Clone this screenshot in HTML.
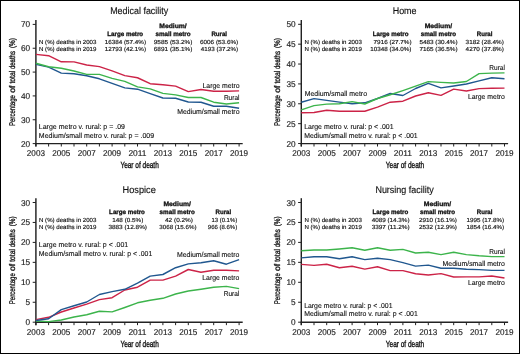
<!DOCTYPE html>
<html><head><meta charset="utf-8"><style>
html,body{margin:0;padding:0;background:#fff;}
body{width:520px;height:354px;overflow:hidden;}
svg{display:block;font-family:"Liberation Sans", sans-serif;text-rendering:geometricPrecision;will-change:transform;}
</style></head><body>
<svg width="520" height="354" viewBox="0 0 520 354">
<rect x="0" y="0" width="520" height="354" fill="#fff"/>
<text x="139.20" y="14.30" font-size="9.8" text-anchor="middle" textLength="58.00" lengthAdjust="spacingAndGlyphs" fill="#111" stroke="#111" stroke-width="0.15">Medical facility</text>
<line x1="35.90" y1="20.00" x2="35.90" y2="146.50" stroke="#222" stroke-width="1.45"/>
<line x1="35.20" y1="143.60" x2="242.70" y2="143.60" stroke="#222" stroke-width="1.45"/>
<line x1="32.70" y1="24.40" x2="35.90" y2="24.40" stroke="#222" stroke-width="1.0"/>
<text x="30.20" y="27.40" font-size="8.4" text-anchor="end" textLength="9.20" lengthAdjust="spacingAndGlyphs" fill="#222" stroke="#222" stroke-width="0.15">70</text>
<line x1="32.70" y1="48.24" x2="35.90" y2="48.24" stroke="#222" stroke-width="1.0"/>
<text x="30.20" y="51.24" font-size="8.4" text-anchor="end" textLength="9.20" lengthAdjust="spacingAndGlyphs" fill="#222" stroke="#222" stroke-width="0.15">60</text>
<line x1="32.70" y1="72.08" x2="35.90" y2="72.08" stroke="#222" stroke-width="1.0"/>
<text x="30.20" y="75.08" font-size="8.4" text-anchor="end" textLength="9.20" lengthAdjust="spacingAndGlyphs" fill="#222" stroke="#222" stroke-width="0.15">50</text>
<line x1="32.70" y1="95.92" x2="35.90" y2="95.92" stroke="#222" stroke-width="1.0"/>
<text x="30.20" y="98.92" font-size="8.4" text-anchor="end" textLength="9.20" lengthAdjust="spacingAndGlyphs" fill="#222" stroke="#222" stroke-width="0.15">40</text>
<line x1="32.70" y1="119.76" x2="35.90" y2="119.76" stroke="#222" stroke-width="1.0"/>
<text x="30.20" y="122.76" font-size="8.4" text-anchor="end" textLength="9.20" lengthAdjust="spacingAndGlyphs" fill="#222" stroke="#222" stroke-width="0.15">30</text>
<line x1="32.70" y1="143.60" x2="35.90" y2="143.60" stroke="#222" stroke-width="1.0"/>
<text x="30.20" y="146.60" font-size="8.4" text-anchor="end" textLength="9.20" lengthAdjust="spacingAndGlyphs" fill="#222" stroke="#222" stroke-width="0.15">20</text>
<line x1="35.90" y1="143.60" x2="35.90" y2="146.50" stroke="#222" stroke-width="1.0"/>
<text x="35.90" y="155.90" font-size="8.4" text-anchor="middle" textLength="18.10" lengthAdjust="spacingAndGlyphs" fill="#222" stroke="#222" stroke-width="0.15">2003</text>
<line x1="48.60" y1="143.60" x2="48.60" y2="146.50" stroke="#222" stroke-width="1.0"/>
<line x1="61.30" y1="143.60" x2="61.30" y2="146.50" stroke="#222" stroke-width="1.0"/>
<text x="61.30" y="155.90" font-size="8.4" text-anchor="middle" textLength="18.10" lengthAdjust="spacingAndGlyphs" fill="#222" stroke="#222" stroke-width="0.15">2005</text>
<line x1="74.00" y1="143.60" x2="74.00" y2="146.50" stroke="#222" stroke-width="1.0"/>
<line x1="86.70" y1="143.60" x2="86.70" y2="146.50" stroke="#222" stroke-width="1.0"/>
<text x="86.70" y="155.90" font-size="8.4" text-anchor="middle" textLength="18.10" lengthAdjust="spacingAndGlyphs" fill="#222" stroke="#222" stroke-width="0.15">2007</text>
<line x1="99.40" y1="143.60" x2="99.40" y2="146.50" stroke="#222" stroke-width="1.0"/>
<line x1="112.10" y1="143.60" x2="112.10" y2="146.50" stroke="#222" stroke-width="1.0"/>
<text x="112.10" y="155.90" font-size="8.4" text-anchor="middle" textLength="18.10" lengthAdjust="spacingAndGlyphs" fill="#222" stroke="#222" stroke-width="0.15">2009</text>
<line x1="124.80" y1="143.60" x2="124.80" y2="146.50" stroke="#222" stroke-width="1.0"/>
<line x1="137.50" y1="143.60" x2="137.50" y2="146.50" stroke="#222" stroke-width="1.0"/>
<text x="137.50" y="155.90" font-size="8.4" text-anchor="middle" textLength="18.10" lengthAdjust="spacingAndGlyphs" fill="#222" stroke="#222" stroke-width="0.15">2011</text>
<line x1="150.20" y1="143.60" x2="150.20" y2="146.50" stroke="#222" stroke-width="1.0"/>
<line x1="162.90" y1="143.60" x2="162.90" y2="146.50" stroke="#222" stroke-width="1.0"/>
<text x="162.90" y="155.90" font-size="8.4" text-anchor="middle" textLength="18.10" lengthAdjust="spacingAndGlyphs" fill="#222" stroke="#222" stroke-width="0.15">2013</text>
<line x1="175.60" y1="143.60" x2="175.60" y2="146.50" stroke="#222" stroke-width="1.0"/>
<line x1="188.30" y1="143.60" x2="188.30" y2="146.50" stroke="#222" stroke-width="1.0"/>
<text x="188.30" y="155.90" font-size="8.4" text-anchor="middle" textLength="18.10" lengthAdjust="spacingAndGlyphs" fill="#222" stroke="#222" stroke-width="0.15">2015</text>
<line x1="201.00" y1="143.60" x2="201.00" y2="146.50" stroke="#222" stroke-width="1.0"/>
<line x1="213.70" y1="143.60" x2="213.70" y2="146.50" stroke="#222" stroke-width="1.0"/>
<text x="213.70" y="155.90" font-size="8.4" text-anchor="middle" textLength="18.10" lengthAdjust="spacingAndGlyphs" fill="#222" stroke="#222" stroke-width="0.15">2017</text>
<line x1="226.40" y1="143.60" x2="226.40" y2="146.50" stroke="#222" stroke-width="1.0"/>
<line x1="239.10" y1="143.60" x2="239.10" y2="146.50" stroke="#222" stroke-width="1.0"/>
<text x="239.10" y="155.90" font-size="8.4" text-anchor="middle" textLength="18.10" lengthAdjust="spacingAndGlyphs" fill="#222" stroke="#222" stroke-width="0.15">2019</text>
<text x="139.60" y="168.00" font-size="9.0" text-anchor="middle" textLength="38.40" lengthAdjust="spacingAndGlyphs" fill="#111" stroke="#111" stroke-width="0.35">Year of death</text>
<text x="-110.55" y="0" font-size="8.3" text-anchor="middle" textLength="31.0" lengthAdjust="spacingAndGlyphs" fill="#111" stroke="#111" stroke-width="0.3" transform="translate(14.70,0) rotate(-90)">Percentage</text>
<text x="-89.20" y="0" font-size="8.3" text-anchor="middle" textLength="7.2" lengthAdjust="spacingAndGlyphs" fill="#111" stroke="#111" stroke-width="0.3" transform="translate(14.70,0) rotate(-90)">of</text>
<text x="-77.20" y="0" font-size="8.3" text-anchor="middle" textLength="12.8" lengthAdjust="spacingAndGlyphs" fill="#111" stroke="#111" stroke-width="0.3" transform="translate(14.70,0) rotate(-90)">total</text>
<text x="-60.10" y="0" font-size="8.3" text-anchor="middle" textLength="18.0" lengthAdjust="spacingAndGlyphs" fill="#111" stroke="#111" stroke-width="0.3" transform="translate(14.70,0) rotate(-90)">deaths</text>
<text x="-43.15" y="0" font-size="8.3" text-anchor="middle" textLength="9.9" lengthAdjust="spacingAndGlyphs" fill="#111" stroke="#111" stroke-width="0.3" transform="translate(14.70,0) rotate(-90)">(%)</text>
<polyline points="35.90,64.40 48.60,67.10 61.30,73.10 74.00,73.70 86.70,75.80 99.40,78.80 112.10,83.40 124.80,87.90 137.50,89.20 150.20,93.70 162.90,98.00 175.60,98.20 188.30,102.00 201.00,102.30 213.70,106.30 226.40,106.30 239.10,108.20" fill="none" stroke="#20578f" stroke-width="1.42" stroke-linejoin="round" stroke-linecap="butt"/>
<polyline points="35.90,63.20 48.60,66.70 61.30,68.30 74.00,71.00 86.70,74.40 99.40,74.40 112.10,78.40 124.80,81.40 137.50,86.90 150.20,88.90 162.90,93.40 175.60,94.90 188.30,97.50 201.00,97.50 213.70,102.20 226.40,104.00 239.10,102.80" fill="none" stroke="#3cb44b" stroke-width="1.42" stroke-linejoin="round" stroke-linecap="butt"/>
<polyline points="35.90,54.40 48.60,55.70 61.30,61.80 74.00,61.90 86.70,65.00 99.40,66.60 112.10,70.80 124.80,75.65 137.50,77.75 150.20,83.70 162.90,84.75 175.60,86.10 188.30,91.60 201.00,89.50 213.70,91.30 226.40,91.30 239.10,90.90" fill="none" stroke="#cc2347" stroke-width="1.42" stroke-linejoin="round" stroke-linecap="butt"/>
<text x="125.20" y="35.50" font-size="6.4" text-anchor="middle" font-weight="bold" textLength="35.80" lengthAdjust="spacingAndGlyphs" fill="#111" stroke="#111" stroke-width="0.3">Large metro</text>
<text x="173.00" y="28.00" font-size="6.4" text-anchor="middle" font-weight="bold" textLength="27.50" lengthAdjust="spacingAndGlyphs" fill="#111" stroke="#111" stroke-width="0.3">Medium/</text>
<text x="173.00" y="35.60" font-size="6.4" text-anchor="middle" font-weight="bold" textLength="35.20" lengthAdjust="spacingAndGlyphs" fill="#111" stroke="#111" stroke-width="0.3">small metro</text>
<text x="219.20" y="35.60" font-size="6.4" text-anchor="middle" font-weight="bold" textLength="15.60" lengthAdjust="spacingAndGlyphs" fill="#111" stroke="#111" stroke-width="0.3">Rural</text>
<text x="39.00" y="43.80" font-size="5.9" textLength="57.40" lengthAdjust="spacingAndGlyphs" fill="#111" stroke="#111" stroke-width="0.15">N (%) deaths in 2003</text>
<text x="39.00" y="51.10" font-size="5.9" textLength="57.40" lengthAdjust="spacingAndGlyphs" fill="#111" stroke="#111" stroke-width="0.15">N (%) deaths in 2019</text>
<text x="104.80" y="43.80" font-size="5.9" textLength="41.20" lengthAdjust="spacingAndGlyphs" fill="#111" stroke="#111" stroke-width="0.15">16384 (57.4%)</text>
<text x="104.80" y="51.20" font-size="5.9" textLength="41.20" lengthAdjust="spacingAndGlyphs" fill="#111" stroke="#111" stroke-width="0.15">12793 (42.1%)</text>
<text x="153.80" y="43.80" font-size="5.9" textLength="38.60" lengthAdjust="spacingAndGlyphs" fill="#111" stroke="#111" stroke-width="0.15">9585 (53.2%)</text>
<text x="153.80" y="51.20" font-size="5.9" textLength="38.60" lengthAdjust="spacingAndGlyphs" fill="#111" stroke="#111" stroke-width="0.15">6891 (35.1%)</text>
<text x="200.00" y="43.80" font-size="5.9" textLength="38.20" lengthAdjust="spacingAndGlyphs" fill="#111" stroke="#111" stroke-width="0.15">6006 (53.6%)</text>
<text x="200.80" y="51.20" font-size="5.9" textLength="37.40" lengthAdjust="spacingAndGlyphs" fill="#111" stroke="#111" stroke-width="0.15">4193 (37.2%)</text>
<text x="38.80" y="129.10" font-size="7.1" textLength="86.20" lengthAdjust="spacingAndGlyphs" fill="#111" stroke="#111" stroke-width="0.12">Large metro v. rural: p = .09</text>
<text x="38.80" y="137.60" font-size="7.1" textLength="115.30" lengthAdjust="spacingAndGlyphs" fill="#111" stroke="#111" stroke-width="0.12">Medium/small metro v. rural: p = .009</text>
<text x="239.50" y="87.90" font-size="7.1" text-anchor="end" textLength="37.00" lengthAdjust="spacingAndGlyphs" fill="#111" stroke="#111" stroke-width="0.12">Large metro</text>
<text x="239.50" y="100.30" font-size="7.1" text-anchor="end" textLength="15.60" lengthAdjust="spacingAndGlyphs" fill="#111" stroke="#111" stroke-width="0.12">Rural</text>
<text x="239.50" y="114.00" font-size="7.1" text-anchor="end" textLength="62.30" lengthAdjust="spacingAndGlyphs" fill="#111" stroke="#111" stroke-width="0.12">Medium/small metro</text>
<text x="404.60" y="14.30" font-size="9.8" text-anchor="middle" textLength="23.80" lengthAdjust="spacingAndGlyphs" fill="#111" stroke="#111" stroke-width="0.15">Home</text>
<line x1="301.30" y1="20.00" x2="301.30" y2="146.50" stroke="#222" stroke-width="1.45"/>
<line x1="300.60" y1="143.60" x2="508.10" y2="143.60" stroke="#222" stroke-width="1.45"/>
<line x1="298.10" y1="24.30" x2="301.30" y2="24.30" stroke="#222" stroke-width="1.0"/>
<text x="295.60" y="27.30" font-size="8.4" text-anchor="end" textLength="9.20" lengthAdjust="spacingAndGlyphs" fill="#222" stroke="#222" stroke-width="0.15">50</text>
<line x1="298.10" y1="44.17" x2="301.30" y2="44.17" stroke="#222" stroke-width="1.0"/>
<text x="295.60" y="47.17" font-size="8.4" text-anchor="end" textLength="9.20" lengthAdjust="spacingAndGlyphs" fill="#222" stroke="#222" stroke-width="0.15">45</text>
<line x1="298.10" y1="64.04" x2="301.30" y2="64.04" stroke="#222" stroke-width="1.0"/>
<text x="295.60" y="67.04" font-size="8.4" text-anchor="end" textLength="9.20" lengthAdjust="spacingAndGlyphs" fill="#222" stroke="#222" stroke-width="0.15">40</text>
<line x1="298.10" y1="83.91" x2="301.30" y2="83.91" stroke="#222" stroke-width="1.0"/>
<text x="295.60" y="86.91" font-size="8.4" text-anchor="end" textLength="9.20" lengthAdjust="spacingAndGlyphs" fill="#222" stroke="#222" stroke-width="0.15">35</text>
<line x1="298.10" y1="103.78" x2="301.30" y2="103.78" stroke="#222" stroke-width="1.0"/>
<text x="295.60" y="106.78" font-size="8.4" text-anchor="end" textLength="9.20" lengthAdjust="spacingAndGlyphs" fill="#222" stroke="#222" stroke-width="0.15">30</text>
<line x1="298.10" y1="123.65" x2="301.30" y2="123.65" stroke="#222" stroke-width="1.0"/>
<text x="295.60" y="126.65" font-size="8.4" text-anchor="end" textLength="9.20" lengthAdjust="spacingAndGlyphs" fill="#222" stroke="#222" stroke-width="0.15">25</text>
<line x1="298.10" y1="143.52" x2="301.30" y2="143.52" stroke="#222" stroke-width="1.0"/>
<text x="295.60" y="146.52" font-size="8.4" text-anchor="end" textLength="9.20" lengthAdjust="spacingAndGlyphs" fill="#222" stroke="#222" stroke-width="0.15">20</text>
<line x1="301.30" y1="143.60" x2="301.30" y2="146.50" stroke="#222" stroke-width="1.0"/>
<text x="301.30" y="155.90" font-size="8.4" text-anchor="middle" textLength="18.10" lengthAdjust="spacingAndGlyphs" fill="#222" stroke="#222" stroke-width="0.15">2003</text>
<line x1="314.00" y1="143.60" x2="314.00" y2="146.50" stroke="#222" stroke-width="1.0"/>
<line x1="326.70" y1="143.60" x2="326.70" y2="146.50" stroke="#222" stroke-width="1.0"/>
<text x="326.70" y="155.90" font-size="8.4" text-anchor="middle" textLength="18.10" lengthAdjust="spacingAndGlyphs" fill="#222" stroke="#222" stroke-width="0.15">2005</text>
<line x1="339.40" y1="143.60" x2="339.40" y2="146.50" stroke="#222" stroke-width="1.0"/>
<line x1="352.10" y1="143.60" x2="352.10" y2="146.50" stroke="#222" stroke-width="1.0"/>
<text x="352.10" y="155.90" font-size="8.4" text-anchor="middle" textLength="18.10" lengthAdjust="spacingAndGlyphs" fill="#222" stroke="#222" stroke-width="0.15">2007</text>
<line x1="364.80" y1="143.60" x2="364.80" y2="146.50" stroke="#222" stroke-width="1.0"/>
<line x1="377.50" y1="143.60" x2="377.50" y2="146.50" stroke="#222" stroke-width="1.0"/>
<text x="377.50" y="155.90" font-size="8.4" text-anchor="middle" textLength="18.10" lengthAdjust="spacingAndGlyphs" fill="#222" stroke="#222" stroke-width="0.15">2009</text>
<line x1="390.20" y1="143.60" x2="390.20" y2="146.50" stroke="#222" stroke-width="1.0"/>
<line x1="402.90" y1="143.60" x2="402.90" y2="146.50" stroke="#222" stroke-width="1.0"/>
<text x="402.90" y="155.90" font-size="8.4" text-anchor="middle" textLength="18.10" lengthAdjust="spacingAndGlyphs" fill="#222" stroke="#222" stroke-width="0.15">2011</text>
<line x1="415.60" y1="143.60" x2="415.60" y2="146.50" stroke="#222" stroke-width="1.0"/>
<line x1="428.30" y1="143.60" x2="428.30" y2="146.50" stroke="#222" stroke-width="1.0"/>
<text x="428.30" y="155.90" font-size="8.4" text-anchor="middle" textLength="18.10" lengthAdjust="spacingAndGlyphs" fill="#222" stroke="#222" stroke-width="0.15">2013</text>
<line x1="441.00" y1="143.60" x2="441.00" y2="146.50" stroke="#222" stroke-width="1.0"/>
<line x1="453.70" y1="143.60" x2="453.70" y2="146.50" stroke="#222" stroke-width="1.0"/>
<text x="453.70" y="155.90" font-size="8.4" text-anchor="middle" textLength="18.10" lengthAdjust="spacingAndGlyphs" fill="#222" stroke="#222" stroke-width="0.15">2015</text>
<line x1="466.40" y1="143.60" x2="466.40" y2="146.50" stroke="#222" stroke-width="1.0"/>
<line x1="479.10" y1="143.60" x2="479.10" y2="146.50" stroke="#222" stroke-width="1.0"/>
<text x="479.10" y="155.90" font-size="8.4" text-anchor="middle" textLength="18.10" lengthAdjust="spacingAndGlyphs" fill="#222" stroke="#222" stroke-width="0.15">2017</text>
<line x1="491.80" y1="143.60" x2="491.80" y2="146.50" stroke="#222" stroke-width="1.0"/>
<line x1="504.50" y1="143.60" x2="504.50" y2="146.50" stroke="#222" stroke-width="1.0"/>
<text x="504.50" y="155.90" font-size="8.4" text-anchor="middle" textLength="18.10" lengthAdjust="spacingAndGlyphs" fill="#222" stroke="#222" stroke-width="0.15">2019</text>
<text x="405.00" y="168.00" font-size="9.0" text-anchor="middle" textLength="38.40" lengthAdjust="spacingAndGlyphs" fill="#111" stroke="#111" stroke-width="0.35">Year of death</text>
<text x="-110.55" y="0" font-size="8.3" text-anchor="middle" textLength="31.0" lengthAdjust="spacingAndGlyphs" fill="#111" stroke="#111" stroke-width="0.3" transform="translate(280.10,0) rotate(-90)">Percentage</text>
<text x="-89.20" y="0" font-size="8.3" text-anchor="middle" textLength="7.2" lengthAdjust="spacingAndGlyphs" fill="#111" stroke="#111" stroke-width="0.3" transform="translate(280.10,0) rotate(-90)">of</text>
<text x="-77.20" y="0" font-size="8.3" text-anchor="middle" textLength="12.8" lengthAdjust="spacingAndGlyphs" fill="#111" stroke="#111" stroke-width="0.3" transform="translate(280.10,0) rotate(-90)">total</text>
<text x="-60.10" y="0" font-size="8.3" text-anchor="middle" textLength="18.0" lengthAdjust="spacingAndGlyphs" fill="#111" stroke="#111" stroke-width="0.3" transform="translate(280.10,0) rotate(-90)">deaths</text>
<text x="-43.15" y="0" font-size="8.3" text-anchor="middle" textLength="9.9" lengthAdjust="spacingAndGlyphs" fill="#111" stroke="#111" stroke-width="0.3" transform="translate(280.10,0) rotate(-90)">(%)</text>
<polyline points="301.30,102.20 314.00,98.65 326.70,100.40 339.40,102.10 352.10,103.80 364.80,102.80 377.50,98.50 390.20,93.50 402.90,95.50 415.60,88.50 428.30,83.30 441.00,87.90 453.70,86.00 466.40,84.00 479.10,80.90 491.80,77.70 504.50,78.70" fill="none" stroke="#20578f" stroke-width="1.42" stroke-linejoin="round" stroke-linecap="butt"/>
<polyline points="301.30,109.90 314.00,105.60 326.70,104.10 339.40,103.80 352.10,101.60 364.80,104.00 377.50,98.50 390.20,94.70 402.90,90.60 415.60,86.20 428.30,81.60 441.00,82.40 453.70,83.00 466.40,81.50 479.10,73.60 491.80,73.10 504.50,72.90" fill="none" stroke="#3cb44b" stroke-width="1.42" stroke-linejoin="round" stroke-linecap="butt"/>
<polyline points="301.30,112.80 314.00,112.50 326.70,110.20 339.40,111.30 352.10,111.20 364.80,111.20 377.50,107.10 390.20,102.20 402.90,101.20 415.60,96.00 428.30,92.80 441.00,95.40 453.70,89.10 466.40,91.00 479.10,88.60 491.80,88.30 504.50,88.10" fill="none" stroke="#cc2347" stroke-width="1.42" stroke-linejoin="round" stroke-linecap="butt"/>
<text x="390.60" y="35.50" font-size="6.4" text-anchor="middle" font-weight="bold" textLength="35.80" lengthAdjust="spacingAndGlyphs" fill="#111" stroke="#111" stroke-width="0.3">Large metro</text>
<text x="438.40" y="28.00" font-size="6.4" text-anchor="middle" font-weight="bold" textLength="27.50" lengthAdjust="spacingAndGlyphs" fill="#111" stroke="#111" stroke-width="0.3">Medium/</text>
<text x="438.40" y="35.60" font-size="6.4" text-anchor="middle" font-weight="bold" textLength="35.20" lengthAdjust="spacingAndGlyphs" fill="#111" stroke="#111" stroke-width="0.3">small metro</text>
<text x="484.60" y="35.60" font-size="6.4" text-anchor="middle" font-weight="bold" textLength="15.60" lengthAdjust="spacingAndGlyphs" fill="#111" stroke="#111" stroke-width="0.3">Rural</text>
<text x="304.40" y="43.80" font-size="5.9" textLength="57.40" lengthAdjust="spacingAndGlyphs" fill="#111" stroke="#111" stroke-width="0.15">N (%) deaths in 2003</text>
<text x="304.40" y="51.10" font-size="5.9" textLength="57.40" lengthAdjust="spacingAndGlyphs" fill="#111" stroke="#111" stroke-width="0.15">N (%) deaths in 2019</text>
<text x="373.60" y="43.80" font-size="5.9" textLength="38.00" lengthAdjust="spacingAndGlyphs" fill="#111" stroke="#111" stroke-width="0.15">7916 (27.7%)</text>
<text x="370.20" y="51.20" font-size="5.9" textLength="41.20" lengthAdjust="spacingAndGlyphs" fill="#111" stroke="#111" stroke-width="0.15">10348 (34.0%)</text>
<text x="419.40" y="43.80" font-size="5.9" textLength="38.20" lengthAdjust="spacingAndGlyphs" fill="#111" stroke="#111" stroke-width="0.15">5483 (30.4%)</text>
<text x="419.40" y="51.20" font-size="5.9" textLength="38.20" lengthAdjust="spacingAndGlyphs" fill="#111" stroke="#111" stroke-width="0.15">7165 (36.5%)</text>
<text x="465.60" y="43.80" font-size="5.9" textLength="38.20" lengthAdjust="spacingAndGlyphs" fill="#111" stroke="#111" stroke-width="0.15">3182 (28.4%)</text>
<text x="465.60" y="51.20" font-size="5.9" textLength="38.20" lengthAdjust="spacingAndGlyphs" fill="#111" stroke="#111" stroke-width="0.15">4270 (37.8%)</text>
<text x="304.20" y="129.10" font-size="7.1" textLength="89.40" lengthAdjust="spacingAndGlyphs" fill="#111" stroke="#111" stroke-width="0.12">Large metro v. rural: p &lt; .001</text>
<text x="304.20" y="137.60" font-size="7.1" textLength="113.50" lengthAdjust="spacingAndGlyphs" fill="#111" stroke="#111" stroke-width="0.12">Medium/small metro v. rural: p &lt; .001</text>
<text x="504.90" y="69.80" font-size="7.1" text-anchor="end" textLength="15.60" lengthAdjust="spacingAndGlyphs" fill="#111" stroke="#111" stroke-width="0.12">Rural</text>
<text x="504.90" y="98.80" font-size="7.1" text-anchor="end" textLength="37.00" lengthAdjust="spacingAndGlyphs" fill="#111" stroke="#111" stroke-width="0.12">Large metro</text>
<text x="367.00" y="95.80" font-size="7.1" text-anchor="end" textLength="62.30" lengthAdjust="spacingAndGlyphs" fill="#111" stroke="#111" stroke-width="0.12">Medium/small metro</text>
<text x="139.20" y="192.50" font-size="9.8" text-anchor="middle" textLength="33.20" lengthAdjust="spacingAndGlyphs" fill="#111" stroke="#111" stroke-width="0.15">Hospice</text>
<line x1="35.90" y1="198.20" x2="35.90" y2="325.15" stroke="#222" stroke-width="1.45"/>
<line x1="35.20" y1="322.25" x2="242.70" y2="322.25" stroke="#222" stroke-width="1.45"/>
<line x1="32.70" y1="202.50" x2="35.90" y2="202.50" stroke="#222" stroke-width="1.0"/>
<text x="30.20" y="205.50" font-size="8.4" text-anchor="end" textLength="9.20" lengthAdjust="spacingAndGlyphs" fill="#222" stroke="#222" stroke-width="0.15">30</text>
<line x1="32.70" y1="222.45" x2="35.90" y2="222.45" stroke="#222" stroke-width="1.0"/>
<text x="30.20" y="225.45" font-size="8.4" text-anchor="end" textLength="9.20" lengthAdjust="spacingAndGlyphs" fill="#222" stroke="#222" stroke-width="0.15">25</text>
<line x1="32.70" y1="242.40" x2="35.90" y2="242.40" stroke="#222" stroke-width="1.0"/>
<text x="30.20" y="245.40" font-size="8.4" text-anchor="end" textLength="9.20" lengthAdjust="spacingAndGlyphs" fill="#222" stroke="#222" stroke-width="0.15">20</text>
<line x1="32.70" y1="262.35" x2="35.90" y2="262.35" stroke="#222" stroke-width="1.0"/>
<text x="30.20" y="265.35" font-size="8.4" text-anchor="end" textLength="9.20" lengthAdjust="spacingAndGlyphs" fill="#222" stroke="#222" stroke-width="0.15">15</text>
<line x1="32.70" y1="282.30" x2="35.90" y2="282.30" stroke="#222" stroke-width="1.0"/>
<text x="30.20" y="285.30" font-size="8.4" text-anchor="end" textLength="9.20" lengthAdjust="spacingAndGlyphs" fill="#222" stroke="#222" stroke-width="0.15">10</text>
<line x1="32.70" y1="302.25" x2="35.90" y2="302.25" stroke="#222" stroke-width="1.0"/>
<text x="30.20" y="305.25" font-size="8.4" text-anchor="end" textLength="4.60" lengthAdjust="spacingAndGlyphs" fill="#222" stroke="#222" stroke-width="0.15">5</text>
<line x1="32.70" y1="322.20" x2="35.90" y2="322.20" stroke="#222" stroke-width="1.0"/>
<text x="30.20" y="325.20" font-size="8.4" text-anchor="end" textLength="4.60" lengthAdjust="spacingAndGlyphs" fill="#222" stroke="#222" stroke-width="0.15">0</text>
<line x1="35.90" y1="322.25" x2="35.90" y2="325.15" stroke="#222" stroke-width="1.0"/>
<text x="35.90" y="335.00" font-size="8.4" text-anchor="middle" textLength="18.10" lengthAdjust="spacingAndGlyphs" fill="#222" stroke="#222" stroke-width="0.15">2003</text>
<line x1="48.60" y1="322.25" x2="48.60" y2="325.15" stroke="#222" stroke-width="1.0"/>
<line x1="61.30" y1="322.25" x2="61.30" y2="325.15" stroke="#222" stroke-width="1.0"/>
<text x="61.30" y="335.00" font-size="8.4" text-anchor="middle" textLength="18.10" lengthAdjust="spacingAndGlyphs" fill="#222" stroke="#222" stroke-width="0.15">2005</text>
<line x1="74.00" y1="322.25" x2="74.00" y2="325.15" stroke="#222" stroke-width="1.0"/>
<line x1="86.70" y1="322.25" x2="86.70" y2="325.15" stroke="#222" stroke-width="1.0"/>
<text x="86.70" y="335.00" font-size="8.4" text-anchor="middle" textLength="18.10" lengthAdjust="spacingAndGlyphs" fill="#222" stroke="#222" stroke-width="0.15">2007</text>
<line x1="99.40" y1="322.25" x2="99.40" y2="325.15" stroke="#222" stroke-width="1.0"/>
<line x1="112.10" y1="322.25" x2="112.10" y2="325.15" stroke="#222" stroke-width="1.0"/>
<text x="112.10" y="335.00" font-size="8.4" text-anchor="middle" textLength="18.10" lengthAdjust="spacingAndGlyphs" fill="#222" stroke="#222" stroke-width="0.15">2009</text>
<line x1="124.80" y1="322.25" x2="124.80" y2="325.15" stroke="#222" stroke-width="1.0"/>
<line x1="137.50" y1="322.25" x2="137.50" y2="325.15" stroke="#222" stroke-width="1.0"/>
<text x="137.50" y="335.00" font-size="8.4" text-anchor="middle" textLength="18.10" lengthAdjust="spacingAndGlyphs" fill="#222" stroke="#222" stroke-width="0.15">2011</text>
<line x1="150.20" y1="322.25" x2="150.20" y2="325.15" stroke="#222" stroke-width="1.0"/>
<line x1="162.90" y1="322.25" x2="162.90" y2="325.15" stroke="#222" stroke-width="1.0"/>
<text x="162.90" y="335.00" font-size="8.4" text-anchor="middle" textLength="18.10" lengthAdjust="spacingAndGlyphs" fill="#222" stroke="#222" stroke-width="0.15">2013</text>
<line x1="175.60" y1="322.25" x2="175.60" y2="325.15" stroke="#222" stroke-width="1.0"/>
<line x1="188.30" y1="322.25" x2="188.30" y2="325.15" stroke="#222" stroke-width="1.0"/>
<text x="188.30" y="335.00" font-size="8.4" text-anchor="middle" textLength="18.10" lengthAdjust="spacingAndGlyphs" fill="#222" stroke="#222" stroke-width="0.15">2015</text>
<line x1="201.00" y1="322.25" x2="201.00" y2="325.15" stroke="#222" stroke-width="1.0"/>
<line x1="213.70" y1="322.25" x2="213.70" y2="325.15" stroke="#222" stroke-width="1.0"/>
<text x="213.70" y="335.00" font-size="8.4" text-anchor="middle" textLength="18.10" lengthAdjust="spacingAndGlyphs" fill="#222" stroke="#222" stroke-width="0.15">2017</text>
<line x1="226.40" y1="322.25" x2="226.40" y2="325.15" stroke="#222" stroke-width="1.0"/>
<line x1="239.10" y1="322.25" x2="239.10" y2="325.15" stroke="#222" stroke-width="1.0"/>
<text x="239.10" y="335.00" font-size="8.4" text-anchor="middle" textLength="18.10" lengthAdjust="spacingAndGlyphs" fill="#222" stroke="#222" stroke-width="0.15">2019</text>
<text x="139.60" y="347.10" font-size="9.0" text-anchor="middle" textLength="38.40" lengthAdjust="spacingAndGlyphs" fill="#111" stroke="#111" stroke-width="0.35">Year of death</text>
<text x="-288.75" y="0" font-size="8.3" text-anchor="middle" textLength="31.0" lengthAdjust="spacingAndGlyphs" fill="#111" stroke="#111" stroke-width="0.3" transform="translate(14.70,0) rotate(-90)">Percentage</text>
<text x="-267.40" y="0" font-size="8.3" text-anchor="middle" textLength="7.2" lengthAdjust="spacingAndGlyphs" fill="#111" stroke="#111" stroke-width="0.3" transform="translate(14.70,0) rotate(-90)">of</text>
<text x="-255.40" y="0" font-size="8.3" text-anchor="middle" textLength="12.8" lengthAdjust="spacingAndGlyphs" fill="#111" stroke="#111" stroke-width="0.3" transform="translate(14.70,0) rotate(-90)">total</text>
<text x="-238.30" y="0" font-size="8.3" text-anchor="middle" textLength="18.0" lengthAdjust="spacingAndGlyphs" fill="#111" stroke="#111" stroke-width="0.3" transform="translate(14.70,0) rotate(-90)">deaths</text>
<text x="-221.35" y="0" font-size="8.3" text-anchor="middle" textLength="9.9" lengthAdjust="spacingAndGlyphs" fill="#111" stroke="#111" stroke-width="0.3" transform="translate(14.70,0) rotate(-90)">(%)</text>
<polyline points="35.90,321.00 48.60,321.60 61.30,320.00 74.00,317.00 86.70,314.80 99.40,311.30 112.10,311.90 124.80,307.50 137.50,302.80 150.20,300.30 162.90,298.30 175.60,294.00 188.30,291.00 201.00,289.20 213.70,287.20 226.40,286.40 239.10,288.60" fill="none" stroke="#3cb44b" stroke-width="1.42" stroke-linejoin="round" stroke-linecap="butt"/>
<polyline points="35.90,319.60 48.60,317.30 61.30,312.00 74.00,308.00 86.70,304.10 99.40,299.60 112.10,297.70 124.80,290.00 137.50,287.20 150.20,280.10 162.90,280.10 175.60,276.10 188.30,269.50 201.00,272.20 213.70,270.30 226.40,270.30 239.10,270.90" fill="none" stroke="#cc2347" stroke-width="1.42" stroke-linejoin="round" stroke-linecap="butt"/>
<polyline points="35.90,320.50 48.60,318.80 61.30,309.60 74.00,305.80 86.70,302.00 99.40,294.50 112.10,291.60 124.80,289.30 137.50,283.20 150.20,276.10 162.90,274.50 175.60,267.70 188.30,263.90 201.00,262.70 213.70,260.80 226.40,264.20 239.10,259.70" fill="none" stroke="#20578f" stroke-width="1.42" stroke-linejoin="round" stroke-linecap="butt"/>
<text x="127.00" y="213.70" font-size="6.4" text-anchor="middle" font-weight="bold" textLength="35.80" lengthAdjust="spacingAndGlyphs" fill="#111" stroke="#111" stroke-width="0.3">Large metro</text>
<text x="177.20" y="206.20" font-size="6.4" text-anchor="middle" font-weight="bold" textLength="27.50" lengthAdjust="spacingAndGlyphs" fill="#111" stroke="#111" stroke-width="0.3">Medium/</text>
<text x="177.20" y="213.80" font-size="6.4" text-anchor="middle" font-weight="bold" textLength="35.20" lengthAdjust="spacingAndGlyphs" fill="#111" stroke="#111" stroke-width="0.3">small metro</text>
<text x="223.30" y="213.80" font-size="6.4" text-anchor="middle" font-weight="bold" textLength="15.60" lengthAdjust="spacingAndGlyphs" fill="#111" stroke="#111" stroke-width="0.3">Rural</text>
<text x="39.00" y="222.00" font-size="5.9" textLength="57.40" lengthAdjust="spacingAndGlyphs" fill="#111" stroke="#111" stroke-width="0.15">N (%) deaths in 2003</text>
<text x="39.00" y="229.30" font-size="5.9" textLength="57.40" lengthAdjust="spacingAndGlyphs" fill="#111" stroke="#111" stroke-width="0.15">N (%) deaths in 2019</text>
<text x="112.30" y="222.00" font-size="5.9" textLength="31.00" lengthAdjust="spacingAndGlyphs" fill="#111" stroke="#111" stroke-width="0.15">148 (0.5%)</text>
<text x="108.40" y="229.40" font-size="5.9" textLength="38.60" lengthAdjust="spacingAndGlyphs" fill="#111" stroke="#111" stroke-width="0.15">3883 (12.8%)</text>
<text x="165.00" y="222.00" font-size="5.9" textLength="28.00" lengthAdjust="spacingAndGlyphs" fill="#111" stroke="#111" stroke-width="0.15">42 (0.2%)</text>
<text x="159.30" y="229.40" font-size="5.9" textLength="37.20" lengthAdjust="spacingAndGlyphs" fill="#111" stroke="#111" stroke-width="0.15">3068 (15.6%)</text>
<text x="211.40" y="222.00" font-size="5.9" textLength="25.80" lengthAdjust="spacingAndGlyphs" fill="#111" stroke="#111" stroke-width="0.15">13 (0.1%)</text>
<text x="207.80" y="229.40" font-size="5.9" textLength="29.40" lengthAdjust="spacingAndGlyphs" fill="#111" stroke="#111" stroke-width="0.15">966 (8.6%)</text>
<text x="38.80" y="247.20" font-size="7.1" textLength="89.40" lengthAdjust="spacingAndGlyphs" fill="#111" stroke="#111" stroke-width="0.12">Large metro v. rural: p &lt; .001</text>
<text x="38.80" y="255.60" font-size="7.1" textLength="113.50" lengthAdjust="spacingAndGlyphs" fill="#111" stroke="#111" stroke-width="0.12">Medium/small metro v. rural: p &lt; .001</text>
<text x="239.30" y="257.10" font-size="7.1" text-anchor="end" textLength="62.30" lengthAdjust="spacingAndGlyphs" fill="#111" stroke="#111" stroke-width="0.12">Medium/small metro</text>
<text x="239.30" y="280.10" font-size="7.1" text-anchor="end" textLength="37.00" lengthAdjust="spacingAndGlyphs" fill="#111" stroke="#111" stroke-width="0.12">Large metro</text>
<text x="239.30" y="296.20" font-size="7.1" text-anchor="end" textLength="15.60" lengthAdjust="spacingAndGlyphs" fill="#111" stroke="#111" stroke-width="0.12">Rural</text>
<text x="404.60" y="192.50" font-size="9.8" text-anchor="middle" textLength="58.40" lengthAdjust="spacingAndGlyphs" fill="#111" stroke="#111" stroke-width="0.15">Nursing facility</text>
<line x1="301.30" y1="198.20" x2="301.30" y2="325.15" stroke="#222" stroke-width="1.45"/>
<line x1="300.60" y1="322.25" x2="508.10" y2="322.25" stroke="#222" stroke-width="1.45"/>
<line x1="298.10" y1="202.50" x2="301.30" y2="202.50" stroke="#222" stroke-width="1.0"/>
<text x="295.60" y="205.50" font-size="8.4" text-anchor="end" textLength="9.20" lengthAdjust="spacingAndGlyphs" fill="#222" stroke="#222" stroke-width="0.15">30</text>
<line x1="298.10" y1="222.45" x2="301.30" y2="222.45" stroke="#222" stroke-width="1.0"/>
<text x="295.60" y="225.45" font-size="8.4" text-anchor="end" textLength="9.20" lengthAdjust="spacingAndGlyphs" fill="#222" stroke="#222" stroke-width="0.15">25</text>
<line x1="298.10" y1="242.40" x2="301.30" y2="242.40" stroke="#222" stroke-width="1.0"/>
<text x="295.60" y="245.40" font-size="8.4" text-anchor="end" textLength="9.20" lengthAdjust="spacingAndGlyphs" fill="#222" stroke="#222" stroke-width="0.15">20</text>
<line x1="298.10" y1="262.35" x2="301.30" y2="262.35" stroke="#222" stroke-width="1.0"/>
<text x="295.60" y="265.35" font-size="8.4" text-anchor="end" textLength="9.20" lengthAdjust="spacingAndGlyphs" fill="#222" stroke="#222" stroke-width="0.15">15</text>
<line x1="298.10" y1="282.30" x2="301.30" y2="282.30" stroke="#222" stroke-width="1.0"/>
<text x="295.60" y="285.30" font-size="8.4" text-anchor="end" textLength="9.20" lengthAdjust="spacingAndGlyphs" fill="#222" stroke="#222" stroke-width="0.15">10</text>
<line x1="298.10" y1="302.25" x2="301.30" y2="302.25" stroke="#222" stroke-width="1.0"/>
<text x="295.60" y="305.25" font-size="8.4" text-anchor="end" textLength="4.60" lengthAdjust="spacingAndGlyphs" fill="#222" stroke="#222" stroke-width="0.15">5</text>
<line x1="298.10" y1="322.20" x2="301.30" y2="322.20" stroke="#222" stroke-width="1.0"/>
<text x="295.60" y="325.20" font-size="8.4" text-anchor="end" textLength="4.60" lengthAdjust="spacingAndGlyphs" fill="#222" stroke="#222" stroke-width="0.15">0</text>
<line x1="301.30" y1="322.25" x2="301.30" y2="325.15" stroke="#222" stroke-width="1.0"/>
<text x="301.30" y="335.00" font-size="8.4" text-anchor="middle" textLength="18.10" lengthAdjust="spacingAndGlyphs" fill="#222" stroke="#222" stroke-width="0.15">2003</text>
<line x1="314.00" y1="322.25" x2="314.00" y2="325.15" stroke="#222" stroke-width="1.0"/>
<line x1="326.70" y1="322.25" x2="326.70" y2="325.15" stroke="#222" stroke-width="1.0"/>
<text x="326.70" y="335.00" font-size="8.4" text-anchor="middle" textLength="18.10" lengthAdjust="spacingAndGlyphs" fill="#222" stroke="#222" stroke-width="0.15">2005</text>
<line x1="339.40" y1="322.25" x2="339.40" y2="325.15" stroke="#222" stroke-width="1.0"/>
<line x1="352.10" y1="322.25" x2="352.10" y2="325.15" stroke="#222" stroke-width="1.0"/>
<text x="352.10" y="335.00" font-size="8.4" text-anchor="middle" textLength="18.10" lengthAdjust="spacingAndGlyphs" fill="#222" stroke="#222" stroke-width="0.15">2007</text>
<line x1="364.80" y1="322.25" x2="364.80" y2="325.15" stroke="#222" stroke-width="1.0"/>
<line x1="377.50" y1="322.25" x2="377.50" y2="325.15" stroke="#222" stroke-width="1.0"/>
<text x="377.50" y="335.00" font-size="8.4" text-anchor="middle" textLength="18.10" lengthAdjust="spacingAndGlyphs" fill="#222" stroke="#222" stroke-width="0.15">2009</text>
<line x1="390.20" y1="322.25" x2="390.20" y2="325.15" stroke="#222" stroke-width="1.0"/>
<line x1="402.90" y1="322.25" x2="402.90" y2="325.15" stroke="#222" stroke-width="1.0"/>
<text x="402.90" y="335.00" font-size="8.4" text-anchor="middle" textLength="18.10" lengthAdjust="spacingAndGlyphs" fill="#222" stroke="#222" stroke-width="0.15">2011</text>
<line x1="415.60" y1="322.25" x2="415.60" y2="325.15" stroke="#222" stroke-width="1.0"/>
<line x1="428.30" y1="322.25" x2="428.30" y2="325.15" stroke="#222" stroke-width="1.0"/>
<text x="428.30" y="335.00" font-size="8.4" text-anchor="middle" textLength="18.10" lengthAdjust="spacingAndGlyphs" fill="#222" stroke="#222" stroke-width="0.15">2013</text>
<line x1="441.00" y1="322.25" x2="441.00" y2="325.15" stroke="#222" stroke-width="1.0"/>
<line x1="453.70" y1="322.25" x2="453.70" y2="325.15" stroke="#222" stroke-width="1.0"/>
<text x="453.70" y="335.00" font-size="8.4" text-anchor="middle" textLength="18.10" lengthAdjust="spacingAndGlyphs" fill="#222" stroke="#222" stroke-width="0.15">2015</text>
<line x1="466.40" y1="322.25" x2="466.40" y2="325.15" stroke="#222" stroke-width="1.0"/>
<line x1="479.10" y1="322.25" x2="479.10" y2="325.15" stroke="#222" stroke-width="1.0"/>
<text x="479.10" y="335.00" font-size="8.4" text-anchor="middle" textLength="18.10" lengthAdjust="spacingAndGlyphs" fill="#222" stroke="#222" stroke-width="0.15">2017</text>
<line x1="491.80" y1="322.25" x2="491.80" y2="325.15" stroke="#222" stroke-width="1.0"/>
<line x1="504.50" y1="322.25" x2="504.50" y2="325.15" stroke="#222" stroke-width="1.0"/>
<text x="504.50" y="335.00" font-size="8.4" text-anchor="middle" textLength="18.10" lengthAdjust="spacingAndGlyphs" fill="#222" stroke="#222" stroke-width="0.15">2019</text>
<text x="405.00" y="347.10" font-size="9.0" text-anchor="middle" textLength="38.40" lengthAdjust="spacingAndGlyphs" fill="#111" stroke="#111" stroke-width="0.35">Year of death</text>
<text x="-288.75" y="0" font-size="8.3" text-anchor="middle" textLength="31.0" lengthAdjust="spacingAndGlyphs" fill="#111" stroke="#111" stroke-width="0.3" transform="translate(280.10,0) rotate(-90)">Percentage</text>
<text x="-267.40" y="0" font-size="8.3" text-anchor="middle" textLength="7.2" lengthAdjust="spacingAndGlyphs" fill="#111" stroke="#111" stroke-width="0.3" transform="translate(280.10,0) rotate(-90)">of</text>
<text x="-255.40" y="0" font-size="8.3" text-anchor="middle" textLength="12.8" lengthAdjust="spacingAndGlyphs" fill="#111" stroke="#111" stroke-width="0.3" transform="translate(280.10,0) rotate(-90)">total</text>
<text x="-238.30" y="0" font-size="8.3" text-anchor="middle" textLength="18.0" lengthAdjust="spacingAndGlyphs" fill="#111" stroke="#111" stroke-width="0.3" transform="translate(280.10,0) rotate(-90)">deaths</text>
<text x="-221.35" y="0" font-size="8.3" text-anchor="middle" textLength="9.9" lengthAdjust="spacingAndGlyphs" fill="#111" stroke="#111" stroke-width="0.3" transform="translate(280.10,0) rotate(-90)">(%)</text>
<polyline points="301.30,250.80 314.00,250.00 326.70,250.00 339.40,249.00 352.10,247.80 364.80,250.20 377.50,247.80 390.20,250.20 402.90,249.40 415.60,253.00 428.30,252.20 441.00,254.60 453.70,252.30 466.40,254.60 479.10,255.80 491.80,256.60 504.50,256.60" fill="none" stroke="#3cb44b" stroke-width="1.42" stroke-linejoin="round" stroke-linecap="butt"/>
<polyline points="301.30,257.90 314.00,256.70 326.70,256.70 339.40,258.70 352.10,256.80 364.80,259.60 377.50,258.20 390.20,259.60 402.90,262.60 415.60,266.10 428.30,265.10 441.00,268.20 453.70,268.20 466.40,269.30 479.10,269.60 491.80,270.40 504.50,270.40" fill="none" stroke="#20578f" stroke-width="1.42" stroke-linejoin="round" stroke-linecap="butt"/>
<polyline points="301.30,264.40 314.00,265.40 326.70,264.20 339.40,267.70 352.10,266.20 364.80,269.10 377.50,266.80 390.20,270.60 402.90,270.60 415.60,273.80 428.30,275.00 441.00,273.60 453.70,277.00 466.40,276.90 479.10,276.90 491.80,276.00 504.50,278.00" fill="none" stroke="#cc2347" stroke-width="1.42" stroke-linejoin="round" stroke-linecap="butt"/>
<text x="390.40" y="213.70" font-size="6.4" text-anchor="middle" font-weight="bold" textLength="35.80" lengthAdjust="spacingAndGlyphs" fill="#111" stroke="#111" stroke-width="0.3">Large metro</text>
<text x="437.50" y="206.20" font-size="6.4" text-anchor="middle" font-weight="bold" textLength="27.50" lengthAdjust="spacingAndGlyphs" fill="#111" stroke="#111" stroke-width="0.3">Medium/</text>
<text x="437.50" y="213.80" font-size="6.4" text-anchor="middle" font-weight="bold" textLength="35.20" lengthAdjust="spacingAndGlyphs" fill="#111" stroke="#111" stroke-width="0.3">small metro</text>
<text x="484.60" y="213.80" font-size="6.4" text-anchor="middle" font-weight="bold" textLength="15.60" lengthAdjust="spacingAndGlyphs" fill="#111" stroke="#111" stroke-width="0.3">Rural</text>
<text x="304.40" y="222.00" font-size="5.9" textLength="57.40" lengthAdjust="spacingAndGlyphs" fill="#111" stroke="#111" stroke-width="0.15">N (%) deaths in 2003</text>
<text x="304.40" y="229.30" font-size="5.9" textLength="57.40" lengthAdjust="spacingAndGlyphs" fill="#111" stroke="#111" stroke-width="0.15">N (%) deaths in 2019</text>
<text x="371.70" y="222.00" font-size="5.9" textLength="37.90" lengthAdjust="spacingAndGlyphs" fill="#111" stroke="#111" stroke-width="0.15">4089 (14.3%)</text>
<text x="371.70" y="229.40" font-size="5.9" textLength="37.90" lengthAdjust="spacingAndGlyphs" fill="#111" stroke="#111" stroke-width="0.15">3397 (11.2%)</text>
<text x="419.10" y="222.00" font-size="5.9" textLength="37.80" lengthAdjust="spacingAndGlyphs" fill="#111" stroke="#111" stroke-width="0.15">2910 (16.1%)</text>
<text x="419.10" y="229.40" font-size="5.9" textLength="37.80" lengthAdjust="spacingAndGlyphs" fill="#111" stroke="#111" stroke-width="0.15">2532 (12.9%)</text>
<text x="466.50" y="222.00" font-size="5.9" textLength="37.60" lengthAdjust="spacingAndGlyphs" fill="#111" stroke="#111" stroke-width="0.15">1995 (17.8%)</text>
<text x="466.50" y="229.40" font-size="5.9" textLength="37.60" lengthAdjust="spacingAndGlyphs" fill="#111" stroke="#111" stroke-width="0.15">1854 (16.4%)</text>
<text x="304.20" y="307.80" font-size="7.1" textLength="88.30" lengthAdjust="spacingAndGlyphs" fill="#111" stroke="#111" stroke-width="0.12">Large metro v. rural: p &lt; .001</text>
<text x="304.20" y="316.30" font-size="7.1" textLength="113.60" lengthAdjust="spacingAndGlyphs" fill="#111" stroke="#111" stroke-width="0.12">Medium/small metro v. rural: p &lt; .001</text>
<text x="504.90" y="254.40" font-size="7.1" text-anchor="end" textLength="15.60" lengthAdjust="spacingAndGlyphs" fill="#111" stroke="#111" stroke-width="0.12">Rural</text>
<text x="504.90" y="266.20" font-size="7.1" text-anchor="end" textLength="62.30" lengthAdjust="spacingAndGlyphs" fill="#111" stroke="#111" stroke-width="0.12">Medium/small metro</text>
<text x="504.90" y="285.20" font-size="7.1" text-anchor="end" textLength="37.00" lengthAdjust="spacingAndGlyphs" fill="#111" stroke="#111" stroke-width="0.12">Large metro</text>
<rect x="0.5" y="0.5" width="519" height="353" fill="none" stroke="#000" stroke-width="1"/>
</svg>
</body></html>
